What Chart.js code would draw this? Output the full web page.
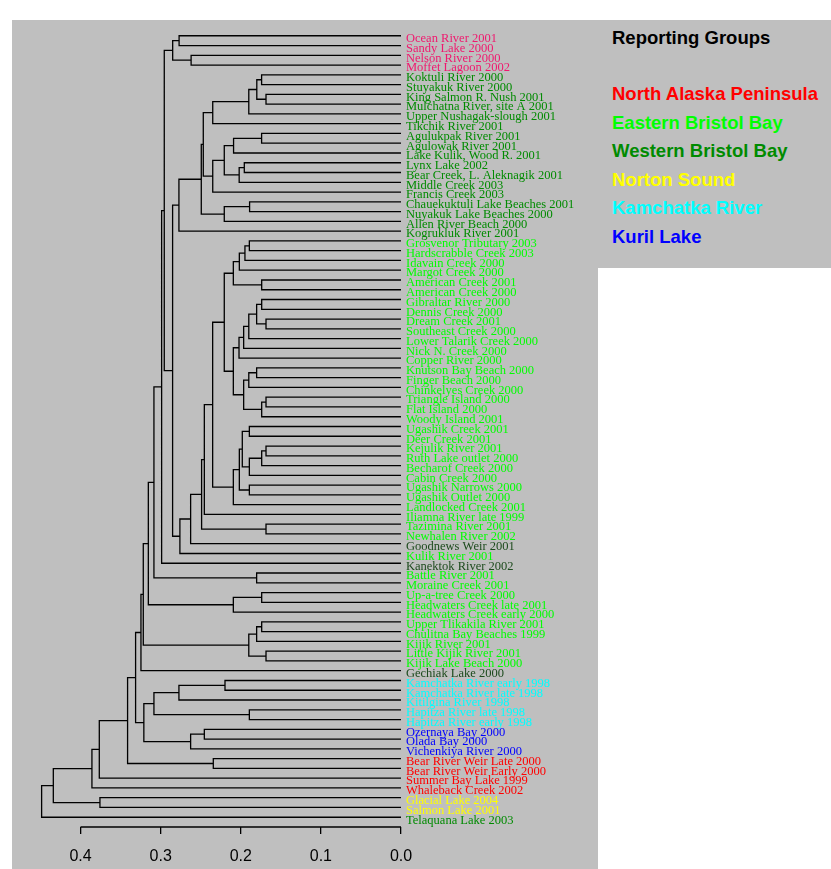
<!DOCTYPE html>
<html>
<head>
<meta charset="utf-8">
<script src="https://cdn.jsdelivr.net/npm/chart.js@4.4.1/dist/chart.umd.min.js"></script>
<style>
  html, body { margin: 0; padding: 0; background: #fff; }
  body { width: 831px; height: 869px; position: relative; overflow: hidden; }
  #plot { position: absolute; left: 12px; top: 20px; width: 586px; height: 849px; background: #bfbfbf; }
  #legend { position: absolute; left: 598px; top: 20px; width: 233px; height: 248px; background: #bfbfbf;
    font-family: "Liberation Sans", Arial, sans-serif; font-weight: bold; font-size: 18.5px; }
  #legend div { position: absolute; left: 14px; white-space: nowrap; line-height: 20px; }
</style>
</head>
<body>
<div id="plot"><canvas id="tree" width="586" height="849"></canvas></div>
<div id="legend"></div>
<script>
// leaves, top to bottom
const leafNames = [
  "Ocean River 2001", "Sandy Lake 2000", "Nelson River 2000", "Moffet Lagoon 2002",
  "Koktuli River 2000", "Stuyakuk River 2000", "King Salmon R. Nush 2001", "Mulchatna River, site A 2001",
  "Upper Nushagak-slough 2001", "Tikchik River 2001", "Agulukpak River 2001", "Agulowak River 2001",
  "Lake Kulik, Wood R. 2001", "Lynx Lake 2002", "Bear Creek, L. Aleknagik 2001", "Middle Creek 2003",
  "Francis Creek 2003", "Chauekuktuli Lake Beaches 2001", "Nuyakuk Lake Beaches 2000", "Allen River Beach 2000",
  "Kogrukluk River 2001", "Grosvenor Tributary 2003", "Hardscrabble Creek 2003", "Idavain Creek 2000",
  "Margot Creek 2000", "American Creek 2001", "American Creek 2000", "Gibraltar River 2000",
  "Dennis Creek 2000", "Dream Creek 2001", "Southeast Creek 2000", "Lower Talarik Creek 2000",
  "Nick N. Creek 2000", "Copper River 2000", "Knutson Bay Beach 2000", "Finger Beach 2000",
  "Chinkelyes Creek 2000", "Triangle Island 2000", "Flat Island 2000", "Woody Island 2001",
  "Ugashik Creek 2001", "Deer Creek 2001", "Kejulik River 2001", "Ruth Lake outlet 2000",
  "Becharof Creek 2000", "Cabin Creek 2000", "Ugashik Narrows 2000", "Ugashik Outlet 2000",
  "Landlocked Creek 2001", "Iliamna River late 1999", "Tazimina River 2001", "Newhalen River 2002",
  "Goodnews Weir 2001", "Kulik River 2001", "Kanektok River 2002", "Battle River 2001",
  "Moraine Creek 2001", "Up-a-tree Creek 2000", "Headwaters Creek late 2001", "Headwaters Creek early 2000",
  "Upper Tlikakila River 2001", "Chulitna Bay Beaches 1999", "Kijik River 2001", "Little Kijik River 2001",
  "Kijik Lake Beach 2000", "Gechiak Lake 2000", "Kamchatka River early 1998", "Kamchatka River late 1998",
  "Kitilgina River 1998", "Hapitza River late 1998", "Hapitza River early 1998", "Ozernaya Bay 2000",
  "Olada Bay 2000", "Vichenkiya River 2000", "Bear River Weir Late 2000", "Bear River Weir Early 2000",
  "Summer Bay Lake 1999", "Whaleback Creek 2002", "Glacial Lake 2004", "Salmon Lake 2001",
  "Telaquana Lake 2003"
];

// group index of each leaf (6 and 7 are not in the legend)
const leafGroup = [
  6, 6, 6, 6,
  2, 2, 2, 2, 2, 2, 2, 2, 2, 2, 2, 2, 2, 2, 2, 2, 2,
  1, 1, 1, 1, 1, 1, 1, 1, 1, 1, 1, 1, 1, 1, 1, 1, 1, 1, 1, 1, 1, 1, 1, 1, 1, 1, 1, 1, 1, 1, 1,
  7, 1, 7,
  1, 1, 1, 1, 1, 1, 1, 1, 1, 1,
  7,
  4, 4, 4, 4, 4,
  5, 5, 5,
  0, 0, 0, 0,
  3, 3,
  2
];

const groupNames = ["North Alaska Peninsula", "Eastern Bristol Bay", "Western Bristol Bay",
  "Norton Sound", "Kamchatka River", "Kuril Lake"];
const groupColors = ["#ff0000", "#00ff00", "#008b00", "#ffff00", "#00ffff", "#0000ff", "#f0186e", "#1c4a1c"];

// merges, hclust style: negative = leaf position, positive = earlier merge (1-based)
const mergeLeft = [
  -1, -3, 1,
  -5, -7, 4, 6, 7, -11, 9, -14, 11, 10, 13, 8, -18, 16, 15, 18,
  -22, 20, 21, -26, 22, -28, -30, 25, 27, 28, 29, -35, 31, -38, 33, 32, 30, 24,
  -41, -43, 39, 40, 38, -47, 42, 44, 37, 46, -51, 47, 49, 50,
  19, 3, 53, -56, 54, -58, 57, 56, -61, 60, -64, 61, 59, 64,
  -67, 66, -70, 67, -72, 70, 69, 65, -75, 73, 75, 76, -79, 77, 79
];
const mergeRight = [
  -2, -4, 2,
  -6, -8, 5, -9, -10, -12, -13, -15, -16, 12, -17, 14, -19, -20, 17, -21,
  -23, -24, -25, -27, 23, -29, -31, 26, -32, -33, -34, -36, -37, -39, -40, 34, 35, 36,
  -42, -44, -45, -46, 41, -48, 43, -49, 45, -50, -52, 48, -53, -54,
  51, 52, -55, -57, 55, -59, -60, 58, -62, -63, -65, 62, 63, -66,
  -68, -69, -71, 68, -73, -74, 71, 72, -76, 74, -77, -78, -80, 78, -81
];
const mergeHeight = [
  0.277, 0.262, 0.285,
  0.174, 0.1685, 0.180, 0.190, 0.235, 0.174, 0.209, 0.1956, 0.202, 0.2206, 0.235, 0.2468, 0.189, 0.2206, 0.2493, 0.2772,
  0.1893, 0.1948, 0.2018, 0.1739, 0.2093, 0.1739, 0.1685, 0.1802, 0.190, 0.1964, 0.2022, 0.1802, 0.190, 0.1685, 0.1739, 0.1964, 0.2093, 0.2206,
  0.1893, 0.1685, 0.1739, 0.1893, 0.1981, 0.1893, 0.2018, 0.2093, 0.2351, 0.2455, 0.1685, 0.2489, 0.2626, 0.276,
  0.2851, 0.2955, 0.2988, 0.1802, 0.3084, 0.1739, 0.2093, 0.3154, 0.1739, 0.1802, 0.1685, 0.190, 0.3217, 0.3246,
  0.2197, 0.2772, 0.1893, 0.3084, 0.2455, 0.2626, 0.321, 0.3313, 0.2343, 0.3413, 0.3766, 0.3858, 0.3758, 0.434, 0.4486
];

const xTicks = [0, 0.1, 0.2, 0.3, 0.4];

// elbow segments for every merge
const nodeY = [], nodeH = [];
function place(ref) {
  return ref < 0 ? [-ref, 0] : [nodeY[ref - 1], nodeH[ref - 1]];
}
const segs = [];
mergeLeft.forEach((a, k) => {
  const h = mergeHeight[k];
  const [ya, ha] = place(a);
  const [yb, hb] = place(mergeRight[k]);
  segs.push({x: ha, y: ya}, {x: h, y: ya}, {x: h, y: yb}, {x: hb, y: yb}, {x: NaN, y: NaN});
  nodeY.push((ya + yb) / 2);
  nodeH.push(h);
});

// axis line only between first and last tick, like R
const axisLine = {
  id: 'axisLine',
  afterDraw(chart) {
    const xs = chart.scales.x, ctx = chart.ctx;
    const x0 = xs.getPixelForValue(Math.min(...xTicks));
    const x1 = xs.getPixelForValue(Math.max(...xTicks));
    ctx.save();
    ctx.strokeStyle = '#000';
    ctx.lineWidth = 1.3;
    ctx.beginPath();
    ctx.moveTo(x0, xs.top);
    ctx.lineTo(x1, xs.top);
    ctx.stroke();
    ctx.restore();
  }
};

new Chart(document.getElementById('tree'), {
  type: 'scatter',
  data: {
    datasets: [{
      data: segs,
      showLine: true,
      spanGaps: false,
      borderColor: '#000',
      borderWidth: 1.3,
      pointRadius: 0,
      clip: false
    }]
  },
  options: {
    responsive: false,
    animation: false,
    devicePixelRatio: 1,
    layout: { padding: { left: 28.5, top: 6, right: 0, bottom: 0 } },
    plugins: { legend: { display: false }, tooltip: { enabled: false } },
    scales: {
      x: {
        type: 'linear', position: 'bottom', reverse: true, min: 0, max: 0.45,
        afterBuildTicks: (s) => { s.ticks = xTicks.map(v => ({value: v})); },
        afterFit: (s) => { s.height = 42; s.paddingLeft = 0; s.paddingRight = 0; },
        grid: { drawOnChartArea: false, drawTicks: true, tickLength: 7, color: '#000', lineWidth: 1.3 },
        border: { display: false },
        ticks: {
          color: '#000', padding: 13,
          font: { family: 'Liberation Sans', size: 16 },
          callback: (v) => Number(v).toFixed(1)
        }
      },
      y: {
        type: 'linear', position: 'right', reverse: true, min: 0, max: 82,
        afterBuildTicks: (s) => { s.ticks = leafNames.map((_, i) => ({value: i + 1})); },
        afterFit: (s) => { s.width = 197; s.paddingTop = 0; s.paddingBottom = 0; },
        grid: { display: false, drawTicks: false },
        border: { display: false },
        ticks: {
          autoSkip: false, padding: 5, labelOffset: 3,
          font: { family: 'Liberation Serif', size: 12.5 },
          color: (c) => groupColors[leafGroup[c.tick.value - 1]],
          callback: (v) => leafNames[v - 1]
        }
      }
    }
  },
  plugins: [axisLine]
});

// legend
const legend = document.getElementById('legend');
const title = document.createElement('div');
title.textContent = 'Reporting Groups';
title.style.top = '8px';
title.style.color = '#000';
legend.appendChild(title);
groupNames.forEach((name, i) => {
  const d = document.createElement('div');
  d.textContent = name;
  d.style.color = groupColors[i];
  d.style.top = (64 + i * 28.6) + 'px';
  legend.appendChild(d);
});
</script>
</body>
</html>
